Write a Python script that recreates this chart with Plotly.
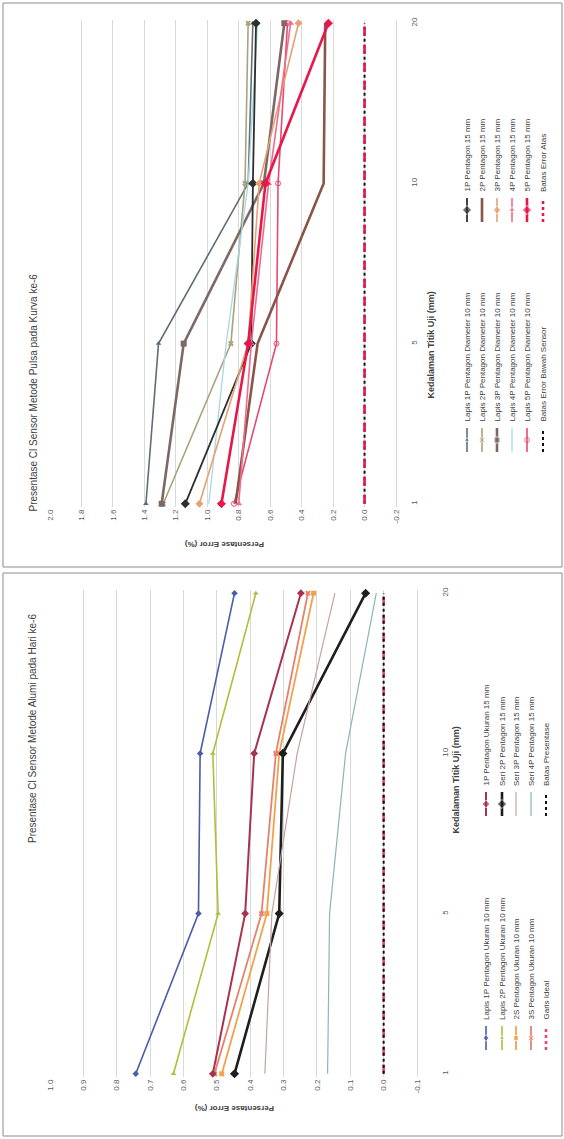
import plotly.graph_objects as go

# depth categories (mm) and value ticks
CATEGORIES = ["1", "5", "10", "20"]

TOP_TICKS = [2.0, 1.8, 1.6, 1.4, 1.2, 1.0, 0.8, 0.6, 0.4, 0.2, 0.0, -0.2]
BOT_TICKS = [1.0, 0.9, 0.8, 0.7, 0.6, 0.5, 0.4, 0.3, 0.2, 0.1, 0.0, -0.1]

TOP_TITLE = "Presentase Cl Sensor Metode Pulsa pada Kurva ke-6"
BOT_TITLE = "Presentase Cl Sensor Metode Alumi pada Hari ke-6"
X_TITLE = "Kedalaman Titik Uji (mm)"
Y_TITLE = "Persentase Error (%)"

# top chart series
TOP_NAMES = [
    "Lapis 1P Pentagon Diameter 10 mm", "Lapis 2P Pentagon Diameter 10 mm",
    "Lapis 3P Pentagon Diameter 10 mm", "Lapis 4P Pentagon Diameter 10 mm",
    "Lapis 5P Pentagon Diameter 10 mm", "Batas Error Bawah Sensor",
    "1P Pentagon 15 mm", "2P Pentagon 15 mm", "3P Pentagon 15 mm",
    "4P Pentagon 15 mm", "5P Pentagon 15 mm", "Batas Error Atas",
]
top_s1 = [1.39, 1.31, 0.74, 0.71]
top_s2 = [1.28, 0.85, 0.76, 0.74]
top_s3 = [1.29, 1.15, 0.64, 0.51]
top_s4 = [0.99, 0.88, 0.74, 0.68]
top_s5 = [0.83, 0.56, 0.55, 0.49]
top_s6 = [0.0, 0.0, 0.0, 0.0]
top_s7 = [1.14, 0.72, 0.71, 0.69]
top_s8 = [0.82, 0.68, 0.26, 0.25]
top_s9 = [1.05, 0.74, 0.67, 0.42]
top_s10 = [0.80, 0.72, 0.61, 0.47]
top_s11 = [0.91, 0.74, 0.63, 0.23]
top_s12 = [0.0, 0.0, 0.0, 0.0]
TOP_VALUES = [top_s1, top_s2, top_s3, top_s4, top_s5, top_s6,
              top_s7, top_s8, top_s9, top_s10, top_s11, top_s12]

# bottom chart series
BOT_NAMES = [
    "Lapis 1P Pentagon Ukuran 10 mm", "Lapis 2P Pentagon Ukuran 10 mm",
    "2S Pentagon Ukuran 10 mm", "3S Pentagon Ukuran 10 mm", "Garis Ideal",
    "1P Pentagon Ukuran 15 mm", "Seri 2P Pentagon 15 mm", "Seri 3P Pentagon 15 mm",
    "Seri 4P Pentagon 15 mm", "Batas Presentase",
]
bot_s1 = [0.743, 0.555, 0.550, 0.447]
bot_s2 = [0.630, 0.496, 0.512, 0.383]
bot_s3 = [0.485, 0.350, 0.313, 0.210]
bot_s4 = [0.507, 0.366, 0.323, 0.227]
bot_s5 = [0.0, 0.0, 0.0, 0.0]
bot_s6 = [0.512, 0.415, 0.388, 0.248]
bot_s7 = [0.447, 0.313, 0.302, 0.054]
bot_s8 = [0.356, 0.335, 0.259, 0.146]
bot_s9 = [0.168, 0.162, 0.114, 0.022]
bot_s10 = [0.0, 0.0, 0.0, 0.0]
BOT_VALUES = [bot_s1, bot_s2, bot_s3, bot_s4, bot_s5,
              bot_s6, bot_s7, bot_s8, bot_s9, bot_s10]

# styles: (color, width, dash, symbol, marker size)
TOP_STYLES = [
    ("#5e6e78", 1.6, "solid", "triangle-up", 5),
    ("#a9a27a", 1.6, "solid", "x", 5),
    ("#7d6964", 2.6, "solid", "square", 6),
    ("#a6d8e6", 1.3, "solid", None, 0),
    ("#e64b6e", 1.6, "solid", "circle-open", 5),
    ("#111111", 2.0, "dot", None, 0),
    ("#2e2e2e", 1.8, "solid", "diamond", 7),
    ("#8a5448", 2.6, "solid", None, 0),
    ("#e8a070", 1.6, "solid", "diamond", 6),
    ("#f06b8c", 1.6, "solid", "triangle-up", 6),
    ("#e8174a", 2.6, "solid", "diamond", 7),
    ("#e8174a", 2.6, "dash", None, 0),
]
BOT_STYLES = [
    ("#4a5da6", 1.6, "solid", "diamond", 5),
    ("#b3bd3c", 1.6, "solid", "triangle-up", 5),
    ("#f2a24c", 1.8, "solid", "square", 5),
    ("#e8806e", 1.8, "solid", "x", 5),
    ("#e8486e", 2.6, "dash", None, 0),
    ("#a8334e", 2.0, "solid", "diamond", 6),
    ("#1e1e1e", 2.6, "solid", "diamond", 7),
    ("#c2a4a2", 1.2, "solid", None, 0),
    ("#88b6bc", 1.2, "solid", None, 0),
    ("#111111", 2.0, "dot", None, 0),
]

W, H = 564, 1139


def px(x):
    return x / W


def py(y):
    return 1 - y / H


def add_chart(fig, n, names, values, styles, ticks, box):
    """Draws one rotated line chart (values run right-to-left, depth bottom-to-top)."""
    xa, ya = ("x", "y") if n == 1 else (f"x{n}", f"y{n}")
    for name, vals, (color, width, dash, symbol, msize) in zip(names, values, styles):
        fig.add_trace(
            go.Scatter(
                x=vals, y=CATEGORIES, name=name, xaxis=xa, yaxis=ya,
                mode="lines+markers" if symbol else "lines",
                line=dict(color=color, width=width, dash=dash),
                marker=dict(symbol=symbol or "circle", size=msize, color=color),
                showlegend=False, cliponaxis=False,
            )
        )

    key = "" if n == 1 else str(n)
    fig.update_layout({
        f"xaxis{key}": dict(
            domain=[px(box["x0"]), px(box["x1"])], anchor=ya, automargin=False,
            range=[ticks[0], ticks[-1]], tickvals=ticks,
            ticktext=[f"{t:.1f}" for t in ticks], tickangle=-90,
            showgrid=True, gridcolor="#d9d9d9", gridwidth=1, zeroline=False,
            showline=False, ticks="", tickfont=dict(size=8, color="#595959"),
        ),
        f"yaxis{key}": dict(
            domain=[py(box["y1"]), py(box["y0"])], anchor=xa, side="right",
            automargin=False, type="category", categoryorder="array",
            categoryarray=CATEGORIES, range=[-0.02, 3.02], tickangle=-90,
            showgrid=False, zeroline=False, showline=True, linecolor="#d9d9d9",
            ticks="outside", ticklen=box["cat_gap"], tickcolor="rgba(0,0,0,0)",
            tickfont=dict(size=8, color="#595959"),
        ),
    })

    # titles, rotated like the source picture
    fig.add_annotation(x=px(25), y=py(box["title_y"]), text=box["title"], textangle=-90,
                       xref="paper", yref="paper", showarrow=False,
                       font=dict(size=10, color="#404040"))
    fig.add_annotation(x=px(box["xt_x"]), y=py(box["xt_y"]), text=f"<b>{X_TITLE}</b>",
                       textangle=-90, xref="paper", yref="paper", showarrow=False,
                       font=dict(size=9, color="#404040"))
    fig.add_annotation(x=px(box["yt_x"]), y=py(box["yt_y"]), text=f"<b>{Y_TITLE}</b>",
                       textangle=180, xref="paper", yref="paper", showarrow=False,
                       font=dict(size=8, color="#404040"))

    # legend: two groups of rotated entries
    half = (len(names) + 1) // 2
    for i, (name, (color, width, dash, symbol, msize)) in enumerate(zip(names, styles)):
        grp, row = divmod(i, half)
        cx = box["leg_cols"][row]
        kb, ka = box["leg_keys"][grp]
        fig.add_trace(
            go.Scatter(
                x=[cx, cx, cx], y=[kb, (ka + kb) / 2, ka], xaxis="x9", yaxis="y9",
                mode="lines+markers", hoverinfo="skip", showlegend=False,
                line=dict(color=color, width=width, dash="solid" if dash == "solid" else "dot"),
                marker=dict(symbol=symbol or "circle", size=[0, msize, 0], color=color),
            )
        )
        fig.add_annotation(x=px(cx), y=py(ka - 4), text=name, textangle=-90,
                           xref="paper", yref="paper", xanchor="center", yanchor="bottom",
                           showarrow=False, font=dict(size=8, color="#404040"))

    fig.add_shape(type="rect", xref="paper", yref="paper",
                  x0=px(3), x1=px(562), y0=py(box["f1"]), y1=py(box["f0"]),
                  line=dict(color="#8c8c8c", width=1))


fig = go.Figure()

add_chart(fig, 1, TOP_NAMES, TOP_VALUES, TOP_STYLES, TOP_TICKS, dict(
    x0=50, x1=396, y0=20, y1=507, title=TOP_TITLE, title_y=272, cat_gap=10,
    xt_x=437, xt_y=290, yt_x=225, yt_y=545,
    leg_cols=[467, 482, 497, 512, 527, 543], leg_keys=[(452, 428), (222, 198)],
    f0=3, f1=567,
))
add_chart(fig, 2, BOT_NAMES, BOT_VALUES, BOT_STYLES, BOT_TICKS, dict(
    x0=50, x1=417, y0=590, y1=1077, title=BOT_TITLE, title_y=845, cat_gap=20,
    xt_x=462, xt_y=836, yt_x=235, yt_y=1115,
    leg_cols=[486, 502, 516, 531, 546], leg_keys=[(1050, 1026), (816, 792)],
    f0=573, f1=1136,
))

fig.update_layout(
    width=W, height=H, margin=dict(l=0, r=0, t=0, b=0, autoexpand=False),
    paper_bgcolor="white", plot_bgcolor="rgba(0,0,0,0)",
    font=dict(family="Liberation Sans"),
    xaxis9=dict(domain=[0, 1], range=[0, W], visible=False, anchor="y9",
                fixedrange=True, automargin=False),
    yaxis9=dict(domain=[0, 1], range=[H, 0], visible=False, anchor="x9",
                fixedrange=True, automargin=False),
)

fig.write_html("out.html", config={"displayModeBar": False},
               post_script="document.body.style.margin = '0';")
